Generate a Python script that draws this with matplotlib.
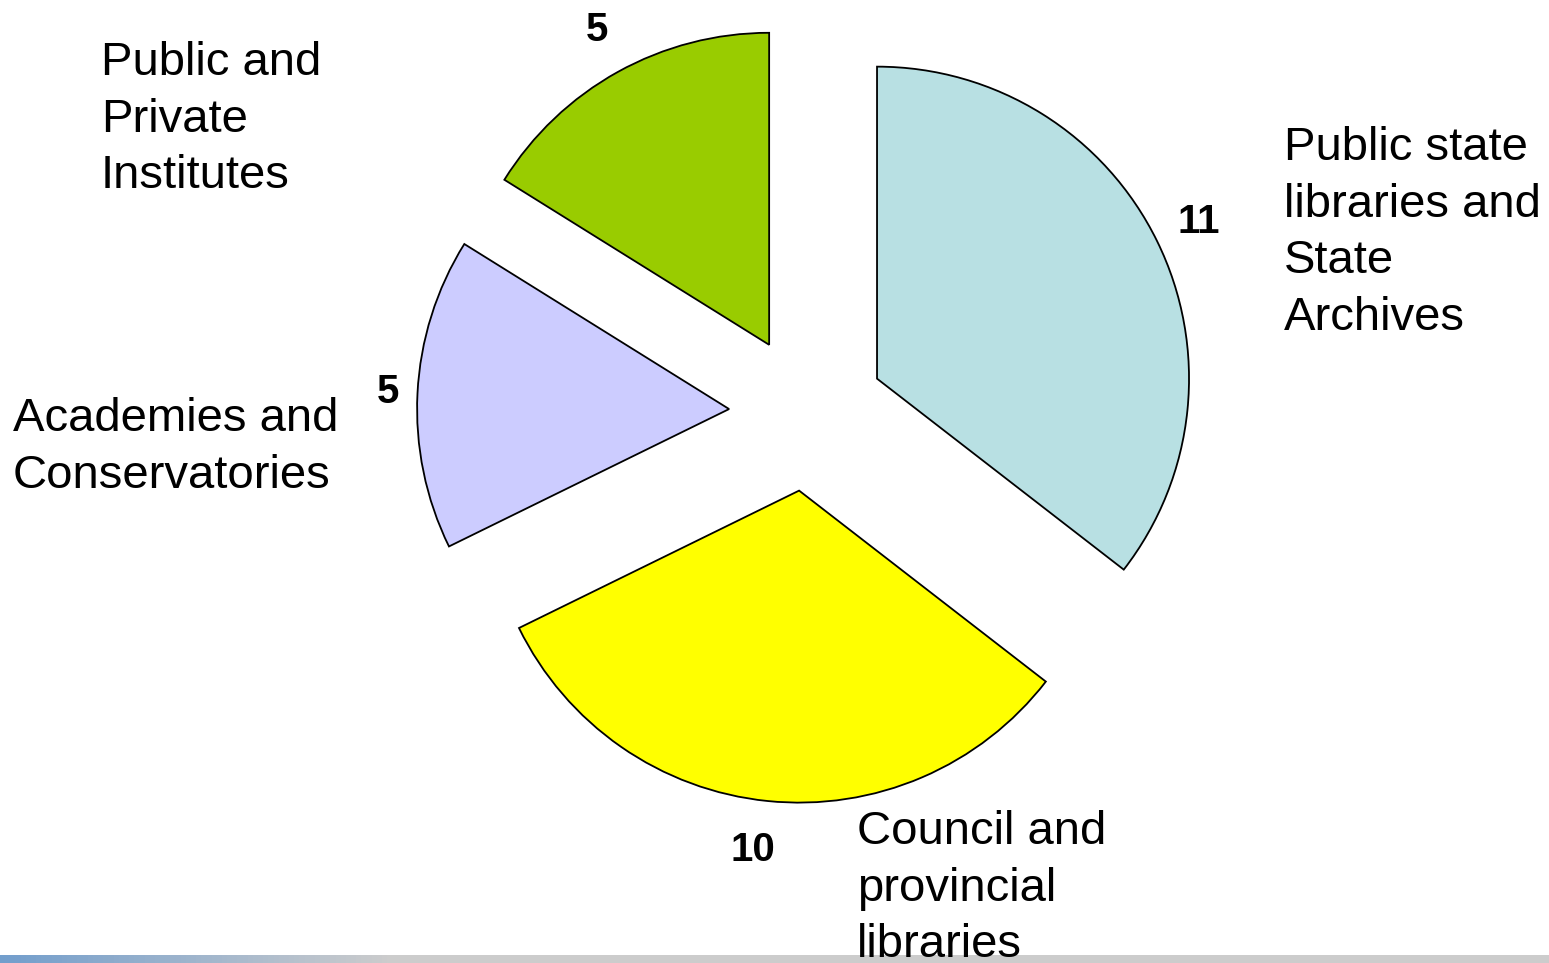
import matplotlib
matplotlib.use("Agg")
import matplotlib.pyplot as plt
import numpy as np

categories = ["Public state\nlibraries and\nState\nArchives",
              "Council and\nprovincial\nlibraries",
              "Academies and\nConservatories",
              "Public and\nPrivate\nInstitutes"]
values = [11, 10, 5, 5]
colors = ["#B8E0E3", "#FFFF00", "#CCCCFF", "#99CC00"]

W, H = 1549, 963
CX, CY, R = 807, 413, 312

fig = plt.figure(figsize=(W / 100, H / 100), dpi=100)

# decorative strip at bottom (drawn beneath the text)
sax = fig.add_axes([0, 0, 1, 8 / H])
grad = np.linspace(0, 1, 300)
c0 = np.array([0.45, 0.62, 0.80])
c1 = np.array([0.80, 0.80, 0.80])
img = np.array([[c0 * (1 - min(t * 4, 1)) + c1 * min(t * 4, 1) for t in grad]])
sax.imshow(img, aspect="auto")
sax.axis("off")

ax = fig.add_axes([0, 0, 1, 1])
ax.patch.set_alpha(0)
ax.pie(values, colors=colors, startangle=90, counterclock=False,
       explode=[0.25] * 4, radius=1,
       wedgeprops=dict(edgecolor="black", linewidth=1.3))
ax.set_aspect("auto")
ax.set_xlim(-CX / R, (W - CX) / R)
ax.set_ylim(-(H - CY) / R, CY / R)
ax.axis("off")


def P(px, py):
    return (px - CX) / R, (CY - py) / R


font = "Liberation Sans"
label_pos = [(1284, 126), (857, 810), (13, 397), (101, 41)]
num_pos = [(1199, 222), (753, 850), (388, 392), (597, 30)]
for lab, (px, py) in zip(categories, label_pos):
    ax.text(*P(px, py), lab, ha="left", va="top", fontsize=34,
            family=font, linespacing=1.37)
for v, (px, py) in zip(values, num_pos):
    ax.text(*P(px, py), str(v), ha="center", va="center", fontsize=29,
            family=font, fontweight="bold")

fig.savefig("out.png", dpi=100)
